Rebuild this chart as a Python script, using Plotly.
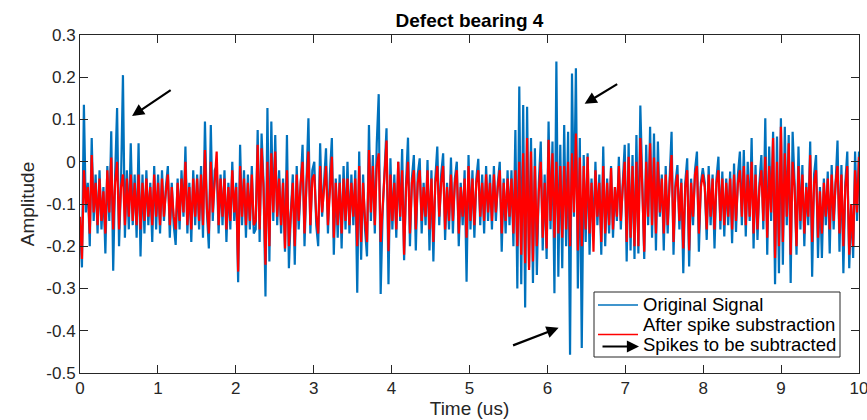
import numpy as np
import plotly.graph_objects as go

# ---------------- data ----------------
T_START_US = 0.0
T_END_US = 10.0

original_signal = [
    -0.15, -0.25, 0.135, -0.12, -0.05, -0.2, 0.056, -0.14, -0.03, -0.17,
    -0.02, -0.16, -0.06, -0.217, -0.01, -0.14, 0.072, -0.258, -0.03, 0.127,
    -0.2, -0.05, 0.205, -0.18, -0.02, -0.16, 0.044, -0.15, -0.03, -0.18,
    0.044, -0.224, -0.03, -0.17, -0.02, -0.15, -0.05, -0.19, -0.01, -0.16,
    -0.03, -0.17, -0.02, -0.14, -0.06, -0.01, -0.18, -0.05, -0.15, -0.197,
    -0.04, -0.16, -0.02, -0.13, 0.036, -0.17, -0.05, -0.19, -0.02, -0.15,
    -0.03, -0.16, -0.01, -0.18, 0.095, -0.12, -0.205, 0.087, -0.14, -0.02,
    -0.01, -0.17, -0.03, -0.15, -0.02, -0.19, -0.05, -0.16, 0.0, -0.14,
    -0.05, -0.285, 0.04, -0.15, -0.02, -0.18, -0.03, -0.16, -0.01, -0.17,
    -0.16, 0.075, -0.19, 0.067, -0.05, -0.319, 0.127, -0.236, 0.095, -0.14,
    0.063, -0.15, -0.02, -0.17, -0.04, -0.213, 0.063, -0.252, -0.12, -0.03,
    -0.244, -0.01, -0.16, -0.04, 0.04, -0.2, -0.03, 0.103, -0.17, -0.02,
    0.0, -0.15, -0.2, 0.044, -0.13, -0.05, 0.032, -0.17, -0.03, 0.056,
    -0.22, -0.04, -0.18, -0.03, -0.205, -0.01, -0.16, 0.0, -0.17, -0.03,
    -0.15, -0.02, -0.31, 0.024, -0.232, -0.03, -0.16, -0.224, 0.087, -0.14,
    0.016, -0.17, 0.044, 0.16, -0.313, -0.12, -0.03, 0.079, -0.29, 0.008,
    -0.16, -0.03, -0.18, 0.0, -0.14, 0.03, -0.233, -0.05, 0.057, -0.2,
    -0.04, 0.016, -0.21, -0.03, 0.008, -0.17, -0.05, -0.15, 0.004, -0.21,
    -0.02, -0.236, -0.04, 0.036, -0.15, -0.03, 0.02, -0.185, -0.05, -0.16,
    0.01, -0.17, -0.04, 0.0, -0.2, -0.05, -0.15, -0.02, -0.284, 0.016,
    -0.16, -0.02, -0.18, -0.04, 0.007, -0.15, -0.03, -0.17, -0.01, -0.14,
    -0.03, -0.16, -0.01, -0.14, -0.05, 0.0, -0.213, -0.04, -0.17, -0.02,
    -0.15, -0.02, -0.2, 0.075, -0.3, 0.178, -0.29, 0.134, -0.345, 0.13,
    -0.25, 0.056, -0.287, 0.032, -0.268, -0.05, 0.048, -0.21, -0.03, -0.23,
    0.095, -0.16, 0.048, -0.311, 0.237, -0.272, 0.04, -0.252, 0.087, -0.2,
    0.071, -0.457, 0.209, -0.13, 0.221, -0.3, 0.056, -0.441, 0.016, -0.19,
    0.02, -0.22, -0.04, -0.17, 0.0, -0.15, -0.03, -0.22, 0.036, -0.2,
    -0.04, -0.17, -0.01, -0.18, -0.06, -0.14, 0.012, -0.16, -0.05, 0.04,
    -0.236, 0.044, -0.21, 0.016, -0.23, 0.063, -0.217, 0.133, -0.05, -0.23,
    0.04, -0.15, 0.083, -0.18, 0.067, -0.21, 0.048, -0.13, -0.03, -0.21,
    -0.01, -0.17, -0.04, 0.071, -0.22, -0.05, -0.008, -0.16, -0.04, -0.264,
    -0.05, 0.008, -0.248, -0.04, -0.15, -0.02, 0.024, -0.213, -0.05, -0.015,
    -0.05, -0.185, -0.01, -0.15, -0.03, -0.205, -0.04, 0.012, -0.16, -0.023,
    -0.177, -0.04, -0.15, -0.023, -0.193, -0.004, -0.166, -0.03, 0.024, -0.15,
    0.028, -0.177, 0.0, -0.14, 0.056, -0.205, -0.008, -0.185, -0.05, 0.016,
    -0.16, 0.103, -0.22, 0.036, -0.14, 0.071, -0.29, 0.06, -0.264, 0.103,
    -0.244, 0.083, -0.15, 0.063, -0.287, 0.071, -0.05, -0.22, 0.036, -0.16,
    -0.008, -0.2, -0.05, -0.15, 0.048, -0.272, -0.03, 0.016, -0.228, -0.06,
    -0.228, -0.04, -0.15, -0.023, -0.217, -0.008, -0.16, -0.03, 0.05, -0.213,
    -0.008, -0.264, -0.05, 0.024, -0.252, -0.1, -0.228, 0.024, -0.14, 0.024,
]

after_spike_subtraction = [
    -0.13, -0.23, -0.02, -0.1, -0.06, -0.17, 0.016, -0.12, -0.05, -0.15,
    -0.04, -0.14, -0.07, -0.17, -0.02, -0.12, 0.01, -0.16, -0.05, 0.0,
    -0.16, -0.06, -0.03, -0.15, -0.04, -0.13, -0.03, -0.14, -0.05, -0.15,
    -0.03, -0.16, -0.05, -0.14, -0.04, -0.13, -0.06, -0.15, -0.03, -0.13,
    -0.05, -0.15, -0.04, -0.13, -0.07, -0.03, -0.15, -0.06, -0.13, -0.16,
    -0.05, -0.14, -0.04, -0.12, 0.0, -0.15, -0.06, -0.16, -0.04, -0.13,
    -0.04, -0.14, -0.03, -0.15, 0.028, -0.11, -0.17, 0.0, -0.12, -0.04,
    0.024, -0.15, -0.04, -0.13, -0.04, -0.16, -0.06, -0.14, -0.02, -0.12,
    -0.06, -0.26, -0.01, -0.13, -0.04, -0.15, -0.05, -0.14, -0.03, -0.15,
    -0.14, 0.04, -0.16, 0.032, -0.06, -0.244, 0.0, -0.2, 0.02, -0.12,
    0.024, -0.13, -0.04, -0.15, -0.05, -0.205, -0.02, -0.2, -0.11, -0.05,
    -0.2, -0.03, -0.14, -0.05, 0.0, -0.17, -0.05, 0.024, -0.15, -0.04,
    -0.03, -0.13, -0.17, -0.01, -0.12, -0.06, -0.01, -0.15, -0.05, 0.012,
    -0.18, -0.05, -0.15, -0.05, -0.17, -0.04, -0.14, -0.04, -0.15, -0.05,
    -0.13, -0.04, -0.2, -0.01, -0.19, -0.05, -0.14, -0.19, 0.028, -0.12,
    -0.01, -0.15, -0.01, 0.02, -0.19, -0.11, -0.05, 0.05, -0.212, -0.03,
    -0.14, -0.05, -0.16, 0.0, -0.13, -0.02, -0.22, -0.06, 0.0, -0.17,
    -0.05, -0.02, -0.16, -0.05, -0.02, -0.14, -0.06, -0.13, -0.02, -0.16,
    -0.04, -0.19, -0.05, -0.01, -0.13, -0.05, -0.01, -0.16, -0.06, -0.14,
    -0.03, -0.14, -0.05, -0.02, -0.17, -0.06, -0.13, -0.04, -0.18, -0.01,
    -0.14, -0.04, -0.15, -0.05, -0.02, -0.13, -0.05, -0.14, -0.03, -0.12,
    -0.05, -0.14, -0.03, -0.12, -0.06, -0.02, -0.17, -0.05, -0.14, -0.04,
    -0.13, -0.04, -0.17, -0.02, -0.2, 0.0, -0.22, 0.02, -0.24, 0.056,
    -0.256, 0.024, -0.236, -0.01, -0.2, -0.07, 0.0, -0.18, -0.05, -0.205,
    0.052, -0.14, 0.02, -0.18, 0.0, -0.17, -0.01, -0.18, -0.01, -0.16,
    0.0, -0.2, 0.02, -0.12, 0.067, -0.21, 0.01, -0.2, -0.01, -0.16,
    0.012, -0.17, -0.05, -0.213, -0.02, -0.13, -0.05, -0.19, -0.01, -0.17,
    -0.05, -0.15, -0.015, -0.16, -0.06, -0.13, -0.01, -0.14, -0.06, 0.0,
    -0.19, 0.012, -0.18, -0.01, -0.2, 0.0, -0.2, 0.056, -0.06, -0.213,
    0.0, -0.13, 0.044, -0.15, 0.01, -0.17, 0.0, -0.12, -0.04, -0.17,
    -0.03, -0.15, -0.05, 0.016, -0.19, -0.06, -0.03, -0.14, -0.05, -0.205,
    -0.06, -0.02, -0.21, -0.05, -0.13, -0.03, -0.01, -0.17, -0.06, -0.03,
    -0.06, -0.16, -0.03, -0.13, -0.04, -0.16, -0.05, -0.02, -0.14, -0.04,
    -0.15, -0.05, -0.13, -0.04, -0.16, -0.03, -0.14, -0.05, -0.02, -0.13,
    -0.01, -0.15, -0.03, -0.13, 0.0, -0.17, -0.03, -0.16, -0.06, -0.02,
    -0.14, 0.012, -0.18, -0.01, -0.12, 0.056, -0.228, 0.0, -0.2, 0.083,
    -0.19, 0.02, -0.13, 0.044, -0.22, 0.0, -0.06, -0.2, -0.01, -0.14,
    -0.03, -0.17, -0.06, -0.13, 0.016, -0.19, -0.05, -0.02, -0.18, -0.07,
    -0.17, -0.05, -0.13, -0.04, -0.16, -0.03, -0.14, -0.05, -0.01, -0.17,
    -0.03, -0.2, -0.06, -0.01, -0.22, -0.1, -0.2, -0.02, -0.12, 0.012,
]

x_tick_vals = [0, 1, 2, 3, 4, 5, 6, 7, 8, 9, 10]
x_tick_text = ["0", "1", "2", "3", "4", "5", "6", "7", "8", "9", "10"]
y_tick_vals = [-0.5, -0.4, -0.3, -0.2, -0.1, 0.0, 0.1, 0.2, 0.3]
y_tick_text = ["-0.5", "-0.4", "-0.3", "-0.2", "-0.1", "0", "0.1", "0.2", "0.3"]

# spike-pointing arrows: (head time, head amplitude, tail time, tail amplitude)
arrow_head_t = [0.668, 6.478, 6.144]
arrow_head_v = [0.108, 0.137, -0.393]
arrow_tail_t = [1.183, 6.915, 5.540]
arrow_tail_v = [0.172, 0.186, -0.436]

legend_labels = ["Original Signal", "After spike substraction", "Spikes to be subtracted"]

BLUE = "#0072BD"
RED = "#FF0000"
AXIS = "#262626"
FONT = "Liberation Sans, Arial, Helvetica, sans-serif"

time_us = np.linspace(T_START_US, T_END_US, len(original_signal))

fig = go.Figure()
fig.add_trace(go.Scatter(x=time_us, y=original_signal, mode="lines",
                         line=dict(color=BLUE, width=2.2),
                         name=legend_labels[0], showlegend=False))
fig.add_trace(go.Scatter(x=time_us, y=after_spike_subtraction, mode="lines",
                         line=dict(color=RED, width=2.2),
                         name=legend_labels[1], showlegend=False))

annotations = []
for ht, hv, tt, tv in zip(arrow_head_t, arrow_head_v, arrow_tail_t, arrow_tail_v):
    annotations.append(dict(x=ht, y=hv, ax=tt, ay=tv, xref="x", yref="y",
                            axref="x", ayref="y", text="", showarrow=True,
                            arrowhead=2, arrowsize=1.1, arrowwidth=2.2,
                            arrowcolor="black", standoff=0))

# manual MATLAB-like legend (paper coordinates)
W, H = 779.0, 338.0
def px(xp):
    return (xp - 80) / W
def py(yp):
    return (373 - yp) / H

shapes = [
    dict(type="rect", xref="paper", yref="paper", x0=px(594), x1=px(840),
         y0=py(357), y1=py(292), line=dict(color=AXIS, width=1), fillcolor="white", layer="above"),
    dict(type="line", xref="paper", yref="paper", x0=px(598), x1=px(638),
         y0=py(305), y1=py(305), line=dict(color=BLUE, width=1.5), layer="above"),
    dict(type="line", xref="paper", yref="paper", x0=px(598), x1=px(638),
         y0=py(334.5), y1=py(334.5), line=dict(color=RED, width=1.5), layer="above"),
]
annotations.append(dict(x=px(639), y=py(346.5), xref="paper", yref="paper",
                        ax=-38, ay=0, axref="pixel", ayref="pixel", text="",
                        showarrow=True, arrowhead=2, arrowsize=1.1, arrowwidth=2.2,
                        arrowcolor="black", standoff=0))
for lab, yp in zip(legend_labels, [304, 324, 344]):
    annotations.append(dict(x=px(641), y=py(yp), xref="paper", yref="paper",
                            text=lab, showarrow=False, xanchor="left", yanchor="middle",
                            font=dict(family=FONT, size=18.5, color="black")))

fig.update_layout(
    width=867, height=420,
    margin=dict(l=80, r=8, t=35, b=47, autoexpand=False),
    paper_bgcolor="white", plot_bgcolor="white",
    font=dict(family=FONT, color=AXIS),
    title=dict(text="<b>Defect bearing 4</b>", x=0.5, xref="paper",
               y=1 - 20 / 420, yref="container", yanchor="middle", xanchor="center",
               font=dict(family=FONT, size=19, color="black")),
    shapes=shapes, annotations=annotations, showlegend=False,
)
fig.update_xaxes(range=[0, 10], tickvals=x_tick_vals, ticktext=x_tick_text,
                 showline=True, linecolor=AXIS, linewidth=1, mirror="ticks",
                 ticks="inside", ticklen=8, tickcolor=AXIS, tickwidth=1,
                 showgrid=False, zeroline=False, ticklabeloverflow="allow",
                 automargin=False,
                 tickfont=dict(family=FONT, size=17, color=AXIS),
                 title=dict(text="Time (us)", standoff=4,
                            font=dict(family=FONT, size=19, color=AXIS)))
fig.update_yaxes(range=[-0.5, 0.3], tickvals=y_tick_vals, ticktext=y_tick_text,
                 showline=True, linecolor=AXIS, linewidth=1, mirror="ticks",
                 ticks="inside", ticklen=8, tickcolor=AXIS, tickwidth=1,
                 showgrid=False, zeroline=False, automargin=False,
                 tickfont=dict(family=FONT, size=17, color=AXIS),
                 title=dict(text="Amplitude", standoff=6,
                            font=dict(family=FONT, size=19, color=AXIS)))

fig.write_html("out.html")
